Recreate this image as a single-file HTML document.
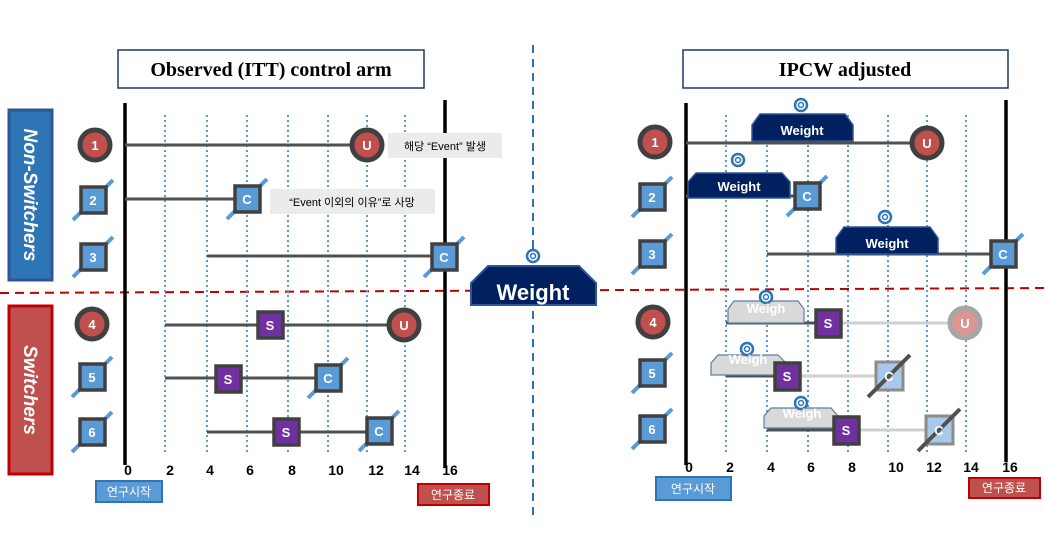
<!DOCTYPE html>
<html><head><meta charset="utf-8"><style>
body{margin:0;background:#fff}
svg{display:block}
text{font-family:"Liberation Sans","Noto Sans CJK KR",sans-serif}
</style></head><body>
<svg width="1045" height="547" viewBox="0 0 1045 547" xmlns="http://www.w3.org/2000/svg">
<defs>
<g id="sq"><line x1="-20" y1="20" x2="20" y2="-20" stroke="#5b9bd5" stroke-width="4"/><rect x="-12" y="-13" width="25" height="26" fill="#5b9bd5" stroke="#404040" stroke-width="3.5"/></g>
<g id="ring"><circle r="6" fill="#fff" stroke="#2e75b6" stroke-width="2.5"/><circle r="2.5" fill="none" stroke="#2e75b6" stroke-width="1.5"/></g>
</defs>
<line x1="533" y1="45" x2="533" y2="520" stroke="#2e75b6" stroke-width="2" stroke-dasharray="8,6"/>
<line x1="0" y1="293" x2="1045" y2="288" stroke="#c00000" stroke-width="2" stroke-dasharray="9,6"/>
<rect x="118" y="50" width="306" height="38" fill="#fff" stroke="#1f3864" stroke-width="1.5"/>
<text x="271" y="76" text-anchor="middle" font-weight="bold" font-size="20" style="font-family:'Liberation Serif',serif">Observed (ITT) control arm</text>
<rect x="683" y="50" width="325" height="38" fill="#fff" stroke="#1f3864" stroke-width="1.5"/>
<text x="845" y="76" text-anchor="middle" font-weight="bold" font-size="20" style="font-family:'Liberation Serif',serif">IPCW adjusted</text>
<rect x="9" y="110" width="43" height="170" fill="#2e75b6" stroke="#2f5597" stroke-width="3"/>
<text transform="translate(24,195) rotate(90)" text-anchor="middle" fill="#fff" font-weight="bold" font-style="italic" font-size="19">Non-Switchers</text>
<rect x="9" y="306" width="43" height="168" fill="#c0504d" stroke="#c00000" stroke-width="3"/>
<text transform="translate(24,390) rotate(90)" text-anchor="middle" fill="#fff" font-weight="bold" font-style="italic" font-size="19">Switchers</text>

<g stroke="#5b9bd5" stroke-width="2" stroke-dasharray="2,3">
<line x1="165" y1="115" x2="165" y2="455"/><line x1="207" y1="115" x2="207" y2="455"/><line x1="247" y1="115" x2="247" y2="455"/><line x1="288" y1="115" x2="288" y2="455"/><line x1="328" y1="115" x2="328" y2="455"/><line x1="367" y1="115" x2="367" y2="455"/><line x1="405" y1="115" x2="405" y2="455"/>
<line x1="726" y1="115" x2="726" y2="452"/><line x1="767" y1="115" x2="767" y2="452"/><line x1="808" y1="115" x2="808" y2="452"/><line x1="848" y1="115" x2="848" y2="452"/><line x1="888" y1="115" x2="888" y2="452"/><line x1="927" y1="115" x2="927" y2="452"/><line x1="966" y1="115" x2="966" y2="452"/>
</g>
<g stroke="#000" stroke-width="3.5">
<line x1="125" y1="103" x2="125" y2="465"/><line x1="445" y1="100" x2="445" y2="468"/>
<line x1="686" y1="103" x2="686" y2="465"/><line x1="1006" y1="100" x2="1006" y2="462"/>
</g>
<g font-weight="bold" font-size="14" text-anchor="middle">
<text x="128" y="475">0</text><text x="170" y="475">2</text><text x="210" y="475">4</text><text x="250" y="475">6</text><text x="292" y="475">8</text><text x="336" y="475">10</text><text x="376" y="475">12</text><text x="412" y="475">14</text><text x="450" y="475">16</text>
<text x="689" y="472">0</text><text x="730" y="472">2</text><text x="771" y="472">4</text><text x="811" y="472">6</text><text x="852" y="472">8</text><text x="896" y="472">10</text><text x="934" y="472">12</text><text x="971" y="472">14</text><text x="1010" y="472">16</text>
</g>
<g font-size="12" fill="#fff" text-anchor="middle">
<rect x="96" y="481" width="66" height="21" fill="#5b9bd5" stroke="#2e75b6" stroke-width="2"/><text x="129" y="496">연구시작</text>
<rect x="418" y="484" width="71" height="21" fill="#c0504d" stroke="#c00000" stroke-width="2"/><text x="453" y="499">연구종료</text>
<rect x="656" y="477" width="75" height="23" fill="#5b9bd5" stroke="#2e75b6" stroke-width="2"/><text x="693" y="493">연구시작</text>
<rect x="969" y="478" width="71" height="20" fill="#c0504d" stroke="#c00000" stroke-width="2"/><text x="1004" y="492">연구종료</text>
</g>

<g font-weight="bold" font-size="13" fill="#fff" text-anchor="middle">
<g stroke="#404040" stroke-width="5" fill="#c0504d"><circle cx="95" cy="145" r="15"/><circle cx="92" cy="324" r="15"/><circle cx="655" cy="142" r="15"/><circle cx="653" cy="322" r="15"/></g>
<text x="95" y="150">1</text><text x="92" y="329">4</text><text x="655" y="147">1</text><text x="653" y="327">4</text>
<use href="#sq" x="93" y="200"/><text x="93" y="205">2</text>
<use href="#sq" x="93" y="257"/><text x="93" y="262">3</text>
<use href="#sq" x="92" y="377"/><text x="92" y="382">5</text>
<use href="#sq" x="92" y="432"/><text x="92" y="437">6</text>
<use href="#sq" x="652" y="197"/><text x="652" y="202">2</text>
<use href="#sq" x="652" y="254"/><text x="652" y="259">3</text>
<use href="#sq" x="652" y="373"/><text x="652" y="378">5</text>
<use href="#sq" x="652" y="429"/><text x="652" y="434">6</text>
</g>

<g stroke="#505050" stroke-width="3">
<line x1="125" y1="145" x2="355" y2="145"/><line x1="125" y1="199" x2="235" y2="199"/><line x1="207" y1="256" x2="432" y2="256"/>
<line x1="165" y1="325" x2="393" y2="325"/><line x1="165" y1="378" x2="315" y2="378"/><line x1="207" y1="432" x2="370" y2="432"/>
</g>
<rect x="388" y="133" width="114" height="25" fill="#ebebeb"/><text x="445" y="150" font-size="11" text-anchor="middle">해당 “Event” 발생</text>
<rect x="270" y="189" width="165" height="25" fill="#ebebeb"/><text x="352" y="206" font-size="11" text-anchor="middle">“Event 이외의 이유”로 사망</text>
<g font-weight="bold" font-size="13" fill="#fff" text-anchor="middle">
<circle cx="367" cy="145" r="15" fill="#c0504d" stroke="#404040" stroke-width="5"/><text x="367" y="150">U</text>
<use href="#sq" x="247" y="199"/><text x="247" y="204">C</text>
<use href="#sq" x="444" y="257"/><text x="444" y="262">C</text>
<rect x="258" y="312" width="25" height="26" fill="#7030a0" stroke="#404040" stroke-width="3.5"/><text x="270" y="330">S</text>
<circle cx="404" cy="325" r="15" fill="#c0504d" stroke="#404040" stroke-width="5"/><text x="404" y="330">U</text>
<rect x="216" y="366" width="25" height="26" fill="#7030a0" stroke="#404040" stroke-width="3.5"/><text x="228" y="384">S</text>
<use href="#sq" x="328" y="378"/><text x="328" y="383">C</text>
<rect x="274" y="419" width="25" height="26" fill="#7030a0" stroke="#404040" stroke-width="3.5"/><text x="286" y="437">S</text>
<use href="#sq" x="379" y="431"/><text x="379" y="436">C</text>
</g>

<line x1="533" y1="240" x2="533" y2="250" stroke="#2e75b6" stroke-width="2"/>
<use href="#ring" x="533" y="256"/>
<polygon points="471,305 471,283 488,266 579,266 596,283 596,305" fill="#002060" stroke="#2f5597" stroke-width="2"/>
<text x="533" y="300" text-anchor="middle" fill="#fff" font-weight="bold" font-size="22">Weight</text>

<g stroke="#505050" stroke-width="3">
<line x1="686" y1="143" x2="915" y2="143"/><line x1="686" y1="196" x2="795" y2="196"/><line x1="767" y1="254" x2="990" y2="254"/>
<line x1="726" y1="323" x2="828" y2="323"/><line x1="726" y1="376" x2="787" y2="376"/><line x1="767" y1="430" x2="846" y2="430"/>
</g>
<g stroke="#d0d0d0" stroke-width="3">
<line x1="840" y1="323" x2="955" y2="323"/><line x1="800" y1="376" x2="878" y2="376"/><line x1="858" y1="430" x2="928" y2="430"/>
</g>
<g fill="#002060" stroke="#2f5597" stroke-width="1.5">
<polygon points="752,141 752,125 760,114 845,114 853,125 853,141"/>
<polygon points="688,198 688,182 696,173 782,173 790,182 790,198"/>
<polygon points="836,254 836,238 844,227 930,227 938,238 938,254"/>
</g>
<use href="#ring" x="801" y="105"/><use href="#ring" x="738" y="160"/><use href="#ring" x="885" y="217"/>
<g fill="#fff" font-weight="bold" font-size="13" text-anchor="middle">
<text x="802" y="135">Weight</text><text x="739" y="191">Weight</text><text x="887" y="248">Weight</text>
</g>
<g fill="#d9d9d9" stroke="#5f7f9f" stroke-width="1.2">
<polygon points="728,323 728,309 734,301 798,301 804,309 804,323"/>
<polygon points="711,375 711,363 718,355 778,355 786,363 786,375"/>
<polygon points="764,428 764,416 771,408 831,408 838,416 838,428"/>
</g>
<use href="#ring" x="766" y="297"/><use href="#ring" x="747" y="349"/><use href="#ring" x="801" y="403"/>
<g fill="#fff" font-weight="bold" font-size="13" text-anchor="middle">
<text x="766" y="313">Weigh</text><text x="748" y="364">Weigh</text><text x="802" y="418">Weigh</text>
</g>
<g font-weight="bold" font-size="13" fill="#fff" text-anchor="middle">
<circle cx="927" cy="143" r="15" fill="#c0504d" stroke="#404040" stroke-width="5"/><text x="927" y="148">U</text>
<use href="#sq" x="807" y="196"/><text x="807" y="201">C</text>
<use href="#sq" x="1003" y="254"/><text x="1003" y="259">C</text>
<rect x="816" y="310" width="25" height="27" fill="#7030a0" stroke="#404040" stroke-width="3.5"/><text x="828" y="328">S</text>
<circle cx="965" cy="323" r="15" fill="#d99694" stroke="#a6a6a6" stroke-width="5"/><text x="965" y="328">U</text>
<rect x="775" y="363" width="25" height="27" fill="#7030a0" stroke="#404040" stroke-width="3.5"/><text x="787" y="381">S</text>
<rect x="876" y="362" width="27" height="28" fill="#a9c9ea" stroke="#8c8c8c" stroke-width="3"/>
<line x1="868" y1="397" x2="910" y2="355" stroke="#505050" stroke-width="4"/><text x="889" y="381">C</text>
<rect x="834" y="417" width="25" height="27" fill="#7030a0" stroke="#404040" stroke-width="3.5"/><text x="846" y="435">S</text>
<rect x="926" y="416" width="27" height="28" fill="#a9c9ea" stroke="#8c8c8c" stroke-width="3"/>
<line x1="918" y1="451" x2="960" y2="409" stroke="#505050" stroke-width="4"/><text x="939" y="435">C</text>
</g>
</svg>
</body></html>
